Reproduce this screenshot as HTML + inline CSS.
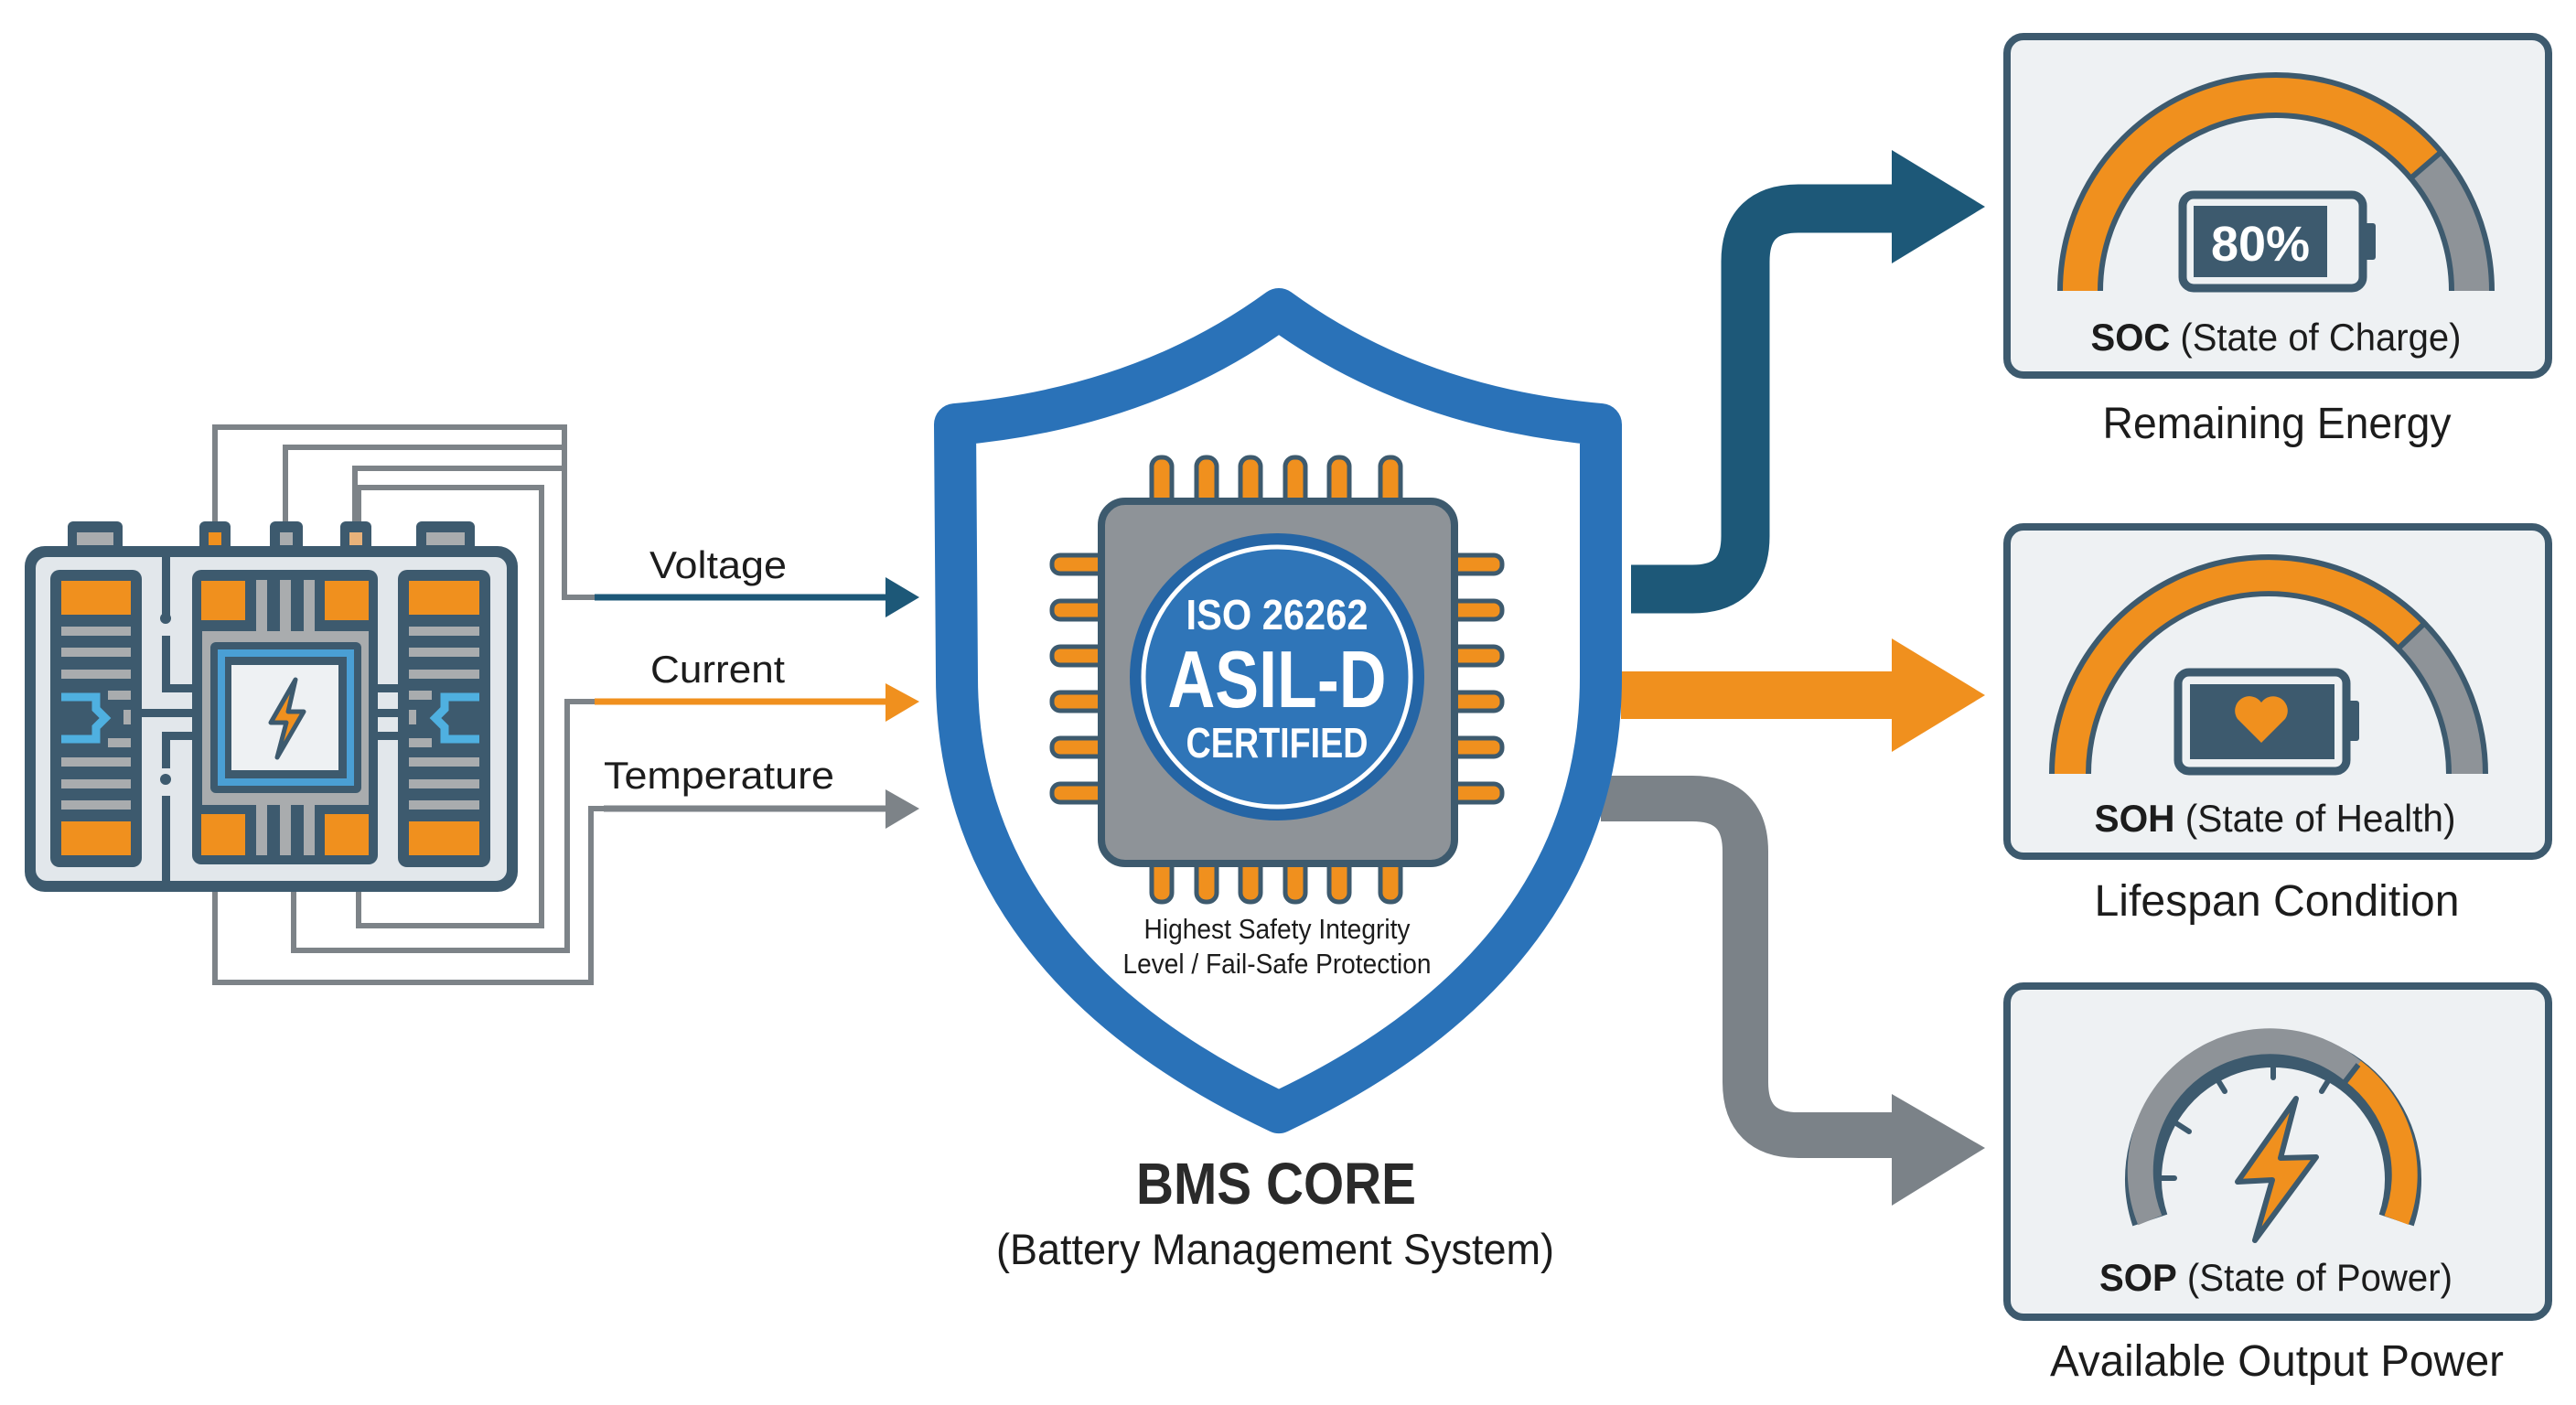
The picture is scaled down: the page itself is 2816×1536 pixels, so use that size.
<!DOCTYPE html>
<html><head><meta charset="utf-8"><style>
html,body{margin:0;padding:0;background:#fff;}
svg{display:block;}
text{font-family:"Liberation Sans",sans-serif;}
</style></head><body>
<svg width="2816" height="1536" viewBox="0 0 2816 1536" xmlns="http://www.w3.org/2000/svg">
<rect width="2816" height="1536" fill="#ffffff"/>

<!-- ===== wires ===== -->
<g fill="none" stroke="#7d8388" stroke-width="6" stroke-linejoin="miter">
  <path d="M235 595 V467 H617 V653 H650"/>
  <path d="M312 595 V489 H617"/>
  <path d="M388 595 V512 H617"/>
  <path d="M392 595 V533 H592 V1012 H392 V975"/>
  <path d="M321 975 V1039 H620 V767 H650"/>
  <path d="M235 975 V1074 H646 V884 H660"/>
</g>
<!-- small arrows -->
<line x1="650" y1="653" x2="972" y2="653" stroke="#1d5878" stroke-width="7"/>
<polygon points="968,631 1005,653 968,675" fill="#1d5878"/>
<line x1="650" y1="767" x2="972" y2="767" stroke="#f0901e" stroke-width="7"/>
<polygon points="968,747 1005,767 968,789" fill="#f0901e"/>
<line x1="660" y1="884" x2="972" y2="884" stroke="#7d8388" stroke-width="7"/>
<polygon points="968,863 1005,884 968,906" fill="#7d8388"/>
<text x="710" y="632" font-size="42" fill="#1c1c1c" textLength="150" lengthAdjust="spacingAndGlyphs">Voltage</text>
<text x="711" y="746" font-size="42" fill="#1c1c1c" textLength="147" lengthAdjust="spacingAndGlyphs">Current</text>
<text x="660" y="862" font-size="42" fill="#1c1c1c" textLength="252" lengthAdjust="spacingAndGlyphs">Temperature</text>

<!-- ===== battery ===== -->
<g>
  <rect x="74" y="570" width="60" height="36" rx="6" fill="#3d5a6e"/>
  <rect x="84" y="582" width="40" height="14" fill="#a9acae"/>
  <rect x="218" y="570" width="34" height="36" rx="6" fill="#3d5a6e"/>
  <rect x="228" y="582" width="14" height="14" fill="#f0901e"/>
  <rect x="295" y="570" width="36" height="36" rx="6" fill="#3d5a6e"/>
  <rect x="306" y="582" width="14" height="14" fill="#a9acae"/>
  <rect x="372" y="570" width="34" height="36" rx="6" fill="#3d5a6e"/>
  <rect x="382" y="582" width="14" height="14" fill="#e8b27a"/>
  <rect x="455" y="570" width="64" height="36" rx="6" fill="#3d5a6e"/>
  <rect x="466" y="582" width="42" height="14" fill="#a9acae"/>
  <rect x="27" y="597" width="539" height="378" rx="22" fill="#3d5a6e"/>
  <rect x="39" y="609" width="515" height="354" rx="12" fill="#e2e7eb"/>
  <g fill="#3d5a6e">
    <rect x="177" y="609" width="9" height="70"/>
    <circle cx="181" cy="676" r="6"/>
    <rect x="177" y="695" width="9" height="60"/>
    <rect x="177" y="748" width="33" height="9"/>
    <rect x="155" y="775" width="55" height="9"/>
    <rect x="177" y="800" width="33" height="9"/>
    <rect x="177" y="800" width="9" height="40"/>
    <circle cx="181" cy="852" r="6"/>
    <rect x="177" y="870" width="9" height="93"/>
    <rect x="413" y="775" width="22" height="9"/>
    <rect x="413" y="748" width="22" height="9"/>
    <rect x="413" y="800" width="22" height="9"/>
  </g>
  <rect x="55" y="623" width="100" height="325" rx="10" fill="#3d5a6e"/>
  <rect x="67" y="635" width="76" height="37" fill="#f0901e"/>
  <rect x="67" y="898" width="76" height="37" fill="#f0901e"/>
  <g fill="#a9acae">
    <rect x="67" y="685" width="76" height="10"/><rect x="67" y="708" width="76" height="10"/><rect x="67" y="732" width="76" height="10"/>
    <rect x="67" y="828" width="76" height="10"/><rect x="67" y="852" width="76" height="10"/><rect x="67" y="875" width="76" height="10"/>
    <rect x="118" y="755" width="25" height="10"/><rect x="118" y="807" width="25" height="10"/><rect x="135" y="776" width="8" height="16"/>
  </g>
  <path d="M67 762 H105 V775 L115 785 L105 795 V808 H67" fill="none" stroke="#4fb0e0" stroke-width="9"/>
  <rect x="435" y="623" width="101" height="325" rx="10" fill="#3d5a6e"/>
  <rect x="447" y="635" width="77" height="37" fill="#f0901e"/>
  <rect x="447" y="898" width="77" height="37" fill="#f0901e"/>
  <g fill="#a9acae">
    <rect x="447" y="685" width="77" height="10"/><rect x="447" y="708" width="77" height="10"/><rect x="447" y="732" width="77" height="10"/>
    <rect x="447" y="828" width="77" height="10"/><rect x="447" y="852" width="77" height="10"/><rect x="447" y="875" width="77" height="10"/>
    <rect x="447" y="755" width="25" height="10"/><rect x="447" y="807" width="25" height="10"/><rect x="447" y="776" width="8" height="16"/>
  </g>
  <path d="M524 762 H486 V775 L476 785 L486 795 V808 H524" fill="none" stroke="#4fb0e0" stroke-width="9"/>
  <rect x="210" y="623" width="203" height="322" rx="10" fill="#3d5a6e"/>
  <rect x="221" y="690" width="182" height="190" fill="#a9acae"/>
  <g fill="#a9acae">
    <rect x="280" y="634" width="12" height="60"/><rect x="306" y="634" width="12" height="60"/><rect x="332" y="634" width="12" height="60"/>
    <rect x="280" y="875" width="12" height="60"/><rect x="306" y="875" width="12" height="60"/><rect x="332" y="875" width="12" height="60"/>
  </g>
  <rect x="220" y="635" width="48" height="43" fill="#f0901e"/>
  <rect x="355" y="635" width="48" height="43" fill="#f0901e"/>
  <rect x="220" y="890" width="48" height="45" fill="#f0901e"/>
  <rect x="355" y="890" width="48" height="45" fill="#f0901e"/>
  <rect x="230" y="702" width="165" height="165" rx="6" fill="#3d5a6e"/>
  <rect x="238" y="710" width="149" height="149" fill="#4a9fd4"/>
  <rect x="246" y="718" width="133" height="133" fill="#3d5a6e"/>
  <rect x="253" y="727" width="117" height="115" fill="#eef1f3"/>
  <polygon points="323,743 296,790 313,790 303,828 332,778 315,778" fill="#f0901e" stroke="#3d5a6e" stroke-width="5" stroke-linejoin="round"/>
</g>

<!-- ===== big arrows ===== -->
<path d="M1783 644 H1850 Q1908 644 1908 586 V286 Q1908 228 1966 228 H2075" fill="none" stroke="#1d5878" stroke-width="53"/>
<polygon points="2068,164 2170,226 2068,288" fill="#1d5878"/>
<line x1="1772" y1="760" x2="2075" y2="760" stroke="#f0901e" stroke-width="52"/>
<polygon points="2068,698 2170,760 2068,822" fill="#f0901e"/>
<path d="M1750 873 H1850 Q1908 873 1908 931 V1183 Q1908 1241 1966 1241 H2075" fill="none" stroke="#7b8288" stroke-width="50"/>
<polygon points="2068,1196 2170,1255 2068,1318" fill="#7b8288"/>

<!-- ===== shield ===== -->
<path d="M1044 464 Q1250 446 1398 338 Q1546 446 1750 464 L1750 740 C1750 1000 1560 1140 1398 1216 C1236 1140 1046 1000 1046 740 Z" fill="#ffffff" stroke="#2a72b8" stroke-width="46" stroke-linejoin="round"/>

<g fill="#f0901e" stroke="#3d5a6e" stroke-width="5">
  <rect x="1259" y="500" width="22" height="56" rx="10"/><rect x="1308" y="500" width="22" height="56" rx="10"/><rect x="1356" y="500" width="22" height="56" rx="10"/><rect x="1405" y="500" width="22" height="56" rx="10"/><rect x="1453" y="500" width="22" height="56" rx="10"/><rect x="1509" y="500" width="22" height="56" rx="10"/>
  <rect x="1259" y="936" width="22" height="50" rx="10"/><rect x="1308" y="936" width="22" height="50" rx="10"/><rect x="1356" y="936" width="22" height="50" rx="10"/><rect x="1405" y="936" width="22" height="50" rx="10"/><rect x="1453" y="936" width="22" height="50" rx="10"/><rect x="1509" y="936" width="22" height="50" rx="10"/>
  <rect x="1150" y="607" width="62" height="20" rx="9"/><rect x="1150" y="657" width="62" height="20" rx="9"/><rect x="1150" y="707" width="62" height="20" rx="9"/><rect x="1150" y="757" width="62" height="20" rx="9"/><rect x="1150" y="807" width="62" height="20" rx="9"/><rect x="1150" y="857" width="62" height="20" rx="9"/>
  <rect x="1580" y="607" width="62" height="20" rx="9"/><rect x="1580" y="657" width="62" height="20" rx="9"/><rect x="1580" y="707" width="62" height="20" rx="9"/><rect x="1580" y="757" width="62" height="20" rx="9"/><rect x="1580" y="807" width="62" height="20" rx="9"/><rect x="1580" y="857" width="62" height="20" rx="9"/>
</g>
<rect x="1204" y="548" width="386" height="396" rx="26" fill="#8e9398" stroke="#3d5a6e" stroke-width="8"/>
<ellipse cx="1396" cy="740" rx="161" ry="157" fill="#2565a5"/>
<ellipse cx="1396" cy="740" rx="146" ry="142" fill="#2f75b8" stroke="#ffffff" stroke-width="5"/>
<text x="1396" y="688" font-size="46" font-weight="bold" fill="#ffffff" text-anchor="middle" textLength="199" lengthAdjust="spacingAndGlyphs">ISO 26262</text>
<text x="1396" y="773" font-size="88" font-weight="bold" fill="#ffffff" text-anchor="middle" textLength="239" lengthAdjust="spacingAndGlyphs">ASIL-D</text>
<text x="1396" y="828" font-size="46" font-weight="bold" fill="#ffffff" text-anchor="middle" textLength="199" lengthAdjust="spacingAndGlyphs">CERTIFIED</text>
<text x="1396" y="1026" font-size="31" fill="#1c1c1c" text-anchor="middle" textLength="291" lengthAdjust="spacingAndGlyphs">Highest Safety Integrity</text>
<text x="1396" y="1064" font-size="31" fill="#1c1c1c" text-anchor="middle" textLength="337" lengthAdjust="spacingAndGlyphs">Level / Fail-Safe Protection</text>
<text x="1395" y="1316" font-size="64" font-weight="bold" fill="#2a2a2a" text-anchor="middle" textLength="306" lengthAdjust="spacingAndGlyphs">BMS CORE</text>
<text x="1394" y="1382" font-size="47" fill="#1c1c1c" text-anchor="middle" textLength="610" lengthAdjust="spacingAndGlyphs">(Battery Management System)</text>

<!-- ===== SOC panel ===== -->
<rect x="2194" y="40" width="592" height="370" rx="18" fill="#eef1f3" stroke="#3d5a6e" stroke-width="8"/>
<path d="M2274 318 A214 214 0 0 1 2702 318" fill="none" stroke="#3d5a6e" stroke-width="50"/>
<path d="M2274 318 A214 214 0 0 1 2651.9 180.4" fill="none" stroke="#f0901e" stroke-width="38"/>
<path d="M2651.9 180.4 A214 214 0 0 1 2702 318" fill="none" stroke="#8e9398" stroke-width="38"/>
<line x1="2634" y1="196" x2="2670" y2="165" stroke="#3d5a6e" stroke-width="6"/>
<rect x="2386" y="213" width="197" height="102" rx="12" fill="#eef1f3" stroke="#3d5a6e" stroke-width="9"/>
<rect x="2583" y="244" width="14" height="40" rx="3" fill="#3d5a6e"/>
<rect x="2398" y="225" width="146" height="78" fill="#3d5a6e"/>
<text x="2471" y="285" font-size="54" font-weight="bold" fill="#ffffff" text-anchor="middle">80%</text>
<text x="2488" y="383" font-size="42" fill="#1c1c1c" text-anchor="middle" textLength="405" lengthAdjust="spacingAndGlyphs"><tspan font-weight="bold">SOC</tspan> (State of Charge)</text>
<text x="2489" y="479" font-size="48" fill="#1c1c1c" text-anchor="middle" textLength="381" lengthAdjust="spacingAndGlyphs">Remaining Energy</text>

<!-- ===== SOH panel ===== -->
<rect x="2194" y="576" width="592" height="360" rx="18" fill="#eef1f3" stroke="#3d5a6e" stroke-width="8"/>
<path d="M2263 846 A217 217 0 0 1 2697 846" fill="none" stroke="#3d5a6e" stroke-width="46"/>
<path d="M2263 846 A217 217 0 0 1 2636 695.3" fill="none" stroke="#f0901e" stroke-width="34"/>
<path d="M2636 695.3 A217 217 0 0 1 2697 846" fill="none" stroke="#8e9398" stroke-width="34"/>
<line x1="2619.5" y1="711" x2="2652.6" y2="679.3" stroke="#3d5a6e" stroke-width="6"/>
<rect x="2381" y="735" width="184" height="108" rx="12" fill="#eef1f3" stroke="#3d5a6e" stroke-width="9"/>
<rect x="2565" y="766" width="14" height="44" rx="3" fill="#3d5a6e"/>
<rect x="2394" y="748" width="158" height="82" fill="#3d5a6e"/>
<path d="M2472 812 L2446 786 A13 13 0 0 1 2472 768 A13 13 0 0 1 2498 786 Z" fill="#f0901e"/>
<text x="2487" y="909" font-size="42" fill="#1c1c1c" text-anchor="middle" textLength="395" lengthAdjust="spacingAndGlyphs"><tspan font-weight="bold">SOH</tspan> (State of Health)</text>
<text x="2489" y="1001" font-size="48" fill="#1c1c1c" text-anchor="middle" textLength="399" lengthAdjust="spacingAndGlyphs">Lifespan Condition</text>

<!-- ===== SOP panel ===== -->
<rect x="2194" y="1078" width="592" height="362" rx="18" fill="#eef1f3" stroke="#3d5a6e" stroke-width="8"/>
<path d="M2350.3 1334 A142 142 0 1 1 2619.7 1334" fill="none" stroke="#3d5a6e" stroke-width="40"/>
<path d="M2350.3 1334 A142 142 0 0 1 2572.4 1171" fill="none" stroke="#8e9398" stroke-width="28"/>
<path d="M2572.4 1171 A142 142 0 0 1 2619.7 1334" fill="none" stroke="#f0901e" stroke-width="28"/>
<line x1="2561" y1="1186" x2="2578" y2="1164" stroke="#3d5a6e" stroke-width="6"/>
<g stroke="#3d5a6e" stroke-width="6" stroke-linecap="round">
  <line x1="2362" y1="1288" x2="2377" y2="1288"/>
  <line x1="2379" y1="1228" x2="2393" y2="1237"/>
  <line x1="2424" y1="1180" x2="2432" y2="1193"/>
  <line x1="2485" y1="1162" x2="2485" y2="1178"/>
  <line x1="2546" y1="1180" x2="2538" y2="1193"/>
</g>
<polygon points="2510,1201 2446,1292 2484,1290 2465,1356 2532,1265 2493,1266" fill="#f0901e" stroke="#3d5a6e" stroke-width="6" stroke-linejoin="round"/>
<text x="2488" y="1411" font-size="42" fill="#1c1c1c" text-anchor="middle" textLength="386" lengthAdjust="spacingAndGlyphs"><tspan font-weight="bold">SOP</tspan> (State of Power)</text>
<text x="2489" y="1504" font-size="48" fill="#1c1c1c" text-anchor="middle" textLength="496" lengthAdjust="spacingAndGlyphs">Available Output Power</text>
</svg>
</body></html>
